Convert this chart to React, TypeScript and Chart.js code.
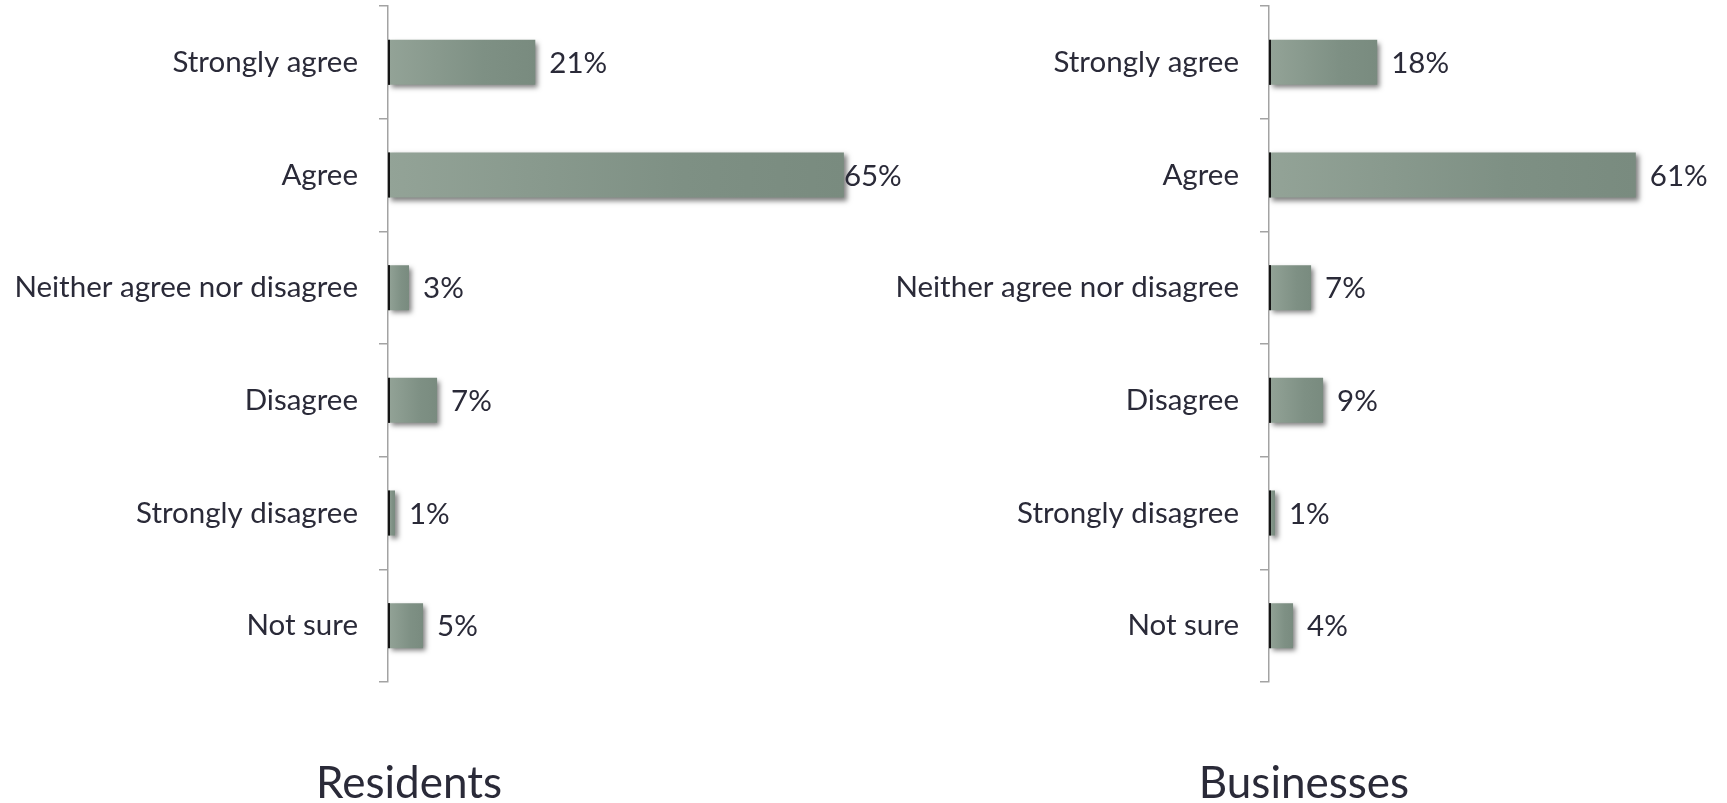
import React, { useEffect, useRef } from 'react';
import { Chart, registerables } from 'chart.js';

Chart.register(...registerables);

const categories = [
  'Strongly agree',
  'Agree',
  'Neither agree nor disagree',
  'Disagree',
  'Strongly disagree',
  'Not sure',
];
const residentsValues = [21, 65, 3, 7, 1, 5];
const businessesValues = [18, 61, 7, 9, 1, 4];
const residentsMax = 72;
const businessesMax = 76;
const panelTitles = ['Residents', 'Businesses'];

const FONT = 'Lato, "Open Sans", sans-serif';
const TEXT = '#2a2a38';
const LABEL_SIZE = 29.5;
const TITLE_SIZE = 44;

function barGradient(ctx: any) {
  const chart = ctx.chart;
  const { chartArea } = chart;
  if (!chartArea || ctx.type !== 'data') return '#869889';
  const x = chart.scales.x;
  const x0 = x.getPixelForValue(0);
  const x1 = x.getPixelForValue(ctx.raw);
  const g = chart.ctx.createLinearGradient(x0, 0, Math.max(x1, x0 + 1), 0);
  g.addColorStop(0, '#93a397');
  g.addColorStop(0.65, '#7e9084');
  g.addColorStop(1, '#798b7f');
  return g;
}

const shadowPlugin = {
  id: 'barShadow',
  beforeDatasetsDraw(chart: any) {
    const c = chart.ctx;
    c.save();
    c.shadowColor = 'rgba(0,0,0,0.5)';
    c.shadowBlur = 5;
    c.shadowOffsetX = 3;
    c.shadowOffsetY = 3;
  },
  afterDatasetsDraw(chart: any) {
    chart.ctx.restore();
  },
};

const valueLabels = {
  id: 'valueLabels',
  afterDatasetsDraw(chart: any) {
    const { ctx, chartArea } = chart;
    const meta = chart.getDatasetMeta(0);
    const data = chart.data.datasets[0].data;
    ctx.save();
    meta.data.forEach((bar: any) => {
      ctx.fillStyle = '#151515';
      ctx.fillRect(bar.base, bar.y - bar.height / 2, 2, bar.height);
    });
    ctx.font = `${LABEL_SIZE}px ${FONT}`;
    ctx.fillStyle = TEXT;
    ctx.textBaseline = 'middle';
    ctx.textAlign = 'left';
    meta.data.forEach((bar: any, i: number) => {
      const text = data[i] + '%';
      const w = ctx.measureText(text).width;
      let x = bar.x + 14;
      if (x + w > chartArea.right) x = Math.max(bar.x, chartArea.right - w);
      ctx.fillText(text, x, bar.y + 1);
    });
    ctx.restore();
  },
};

const panelTitle = {
  id: 'panelTitle',
  afterDraw(chart: any, _args: any, opts: any) {
    const ctx = chart.ctx;
    ctx.save();
    ctx.font = `${TITLE_SIZE}px ${FONT}`;
    ctx.fillStyle = TEXT;
    ctx.textAlign = 'center';
    ctx.textBaseline = 'alphabetic';
    ctx.fillText(opts.text, opts.x, opts.y);
    ctx.restore();
  },
};

type PanelProps = {
  values: number[];
  max: number;
  title: string;
  left: number;
  width: number;
  padRight: number;
  axisX: number;
  titleX: number;
};

function Panel({ values, max, title, left, width, padRight, axisX, titleX }: PanelProps) {
  const ref = useRef<HTMLCanvasElement | null>(null);
  useEffect(() => {
    if (!ref.current) return;
    const chart = new Chart(ref.current, {
      type: 'bar',
      data: {
        labels: categories,
        datasets: [
          {
            data: values,
            backgroundColor: barGradient,
            borderWidth: 0,
            barPercentage: 0.4,
            categoryPercentage: 1,
          },
        ],
      },
      plugins: [shadowPlugin, valueLabels, panelTitle],
      options: {
        indexAxis: 'y',
        animation: false,
        responsive: false,
        maintainAspectRatio: false,
        layout: { padding: { top: 6, bottom: 121, left: 0, right: padRight } },
        plugins: {
          legend: { display: false },
          tooltip: { enabled: false },
          title: { display: false },
          panelTitle: { text: title, x: titleX - left, y: 798 },
        } as any,
        scales: {
          x: { display: false, min: 0, max },
          y: {
            afterFit: (scale: any) => {
              scale.width = axisX - left;
              scale.paddingTop = 0;
              scale.paddingBottom = 0;
            },
            grid: {
              display: true,
              drawOnChartArea: false,
              drawTicks: true,
              tickLength: 9,
              color: '#a3a3a3',
              lineWidth: 1.5,
              offset: true,
            },
            border: { display: true, color: '#a3a3a3', width: 1.5 },
            ticks: {
              color: TEXT,
              padding: 21,
              font: { family: FONT, size: LABEL_SIZE },
            },
          },
        },
      },
    });
    return () => chart.destroy();
  }, [values, max, title, left, width, padRight, axisX, titleX]);
  return (
    <canvas
      ref={ref}
      width={width}
      height={803}
      style={{ position: 'absolute', left, top: 0, width, height: 803 }}
    />
  );
}

export default function App() {
  return (
    <div
      style={{
        position: 'absolute',
        left: 0,
        top: 0,
        width: 1727,
        height: 803,
        background: '#ffffff',
        overflow: 'hidden',
      }}
    >
      <Panel
        values={residentsValues}
        max={residentsMax}
        title={panelTitles[0]}
        left={0}
        width={915}
        padRight={22}
        axisX={388}
        titleX={409}
      />
      <Panel
        values={businessesValues}
        max={businessesMax}
        title={panelTitles[1]}
        left={864}
        width={863}
        padRight={1}
        axisX={1269}
        titleX={1304}
      />
    </div>
  );
}
